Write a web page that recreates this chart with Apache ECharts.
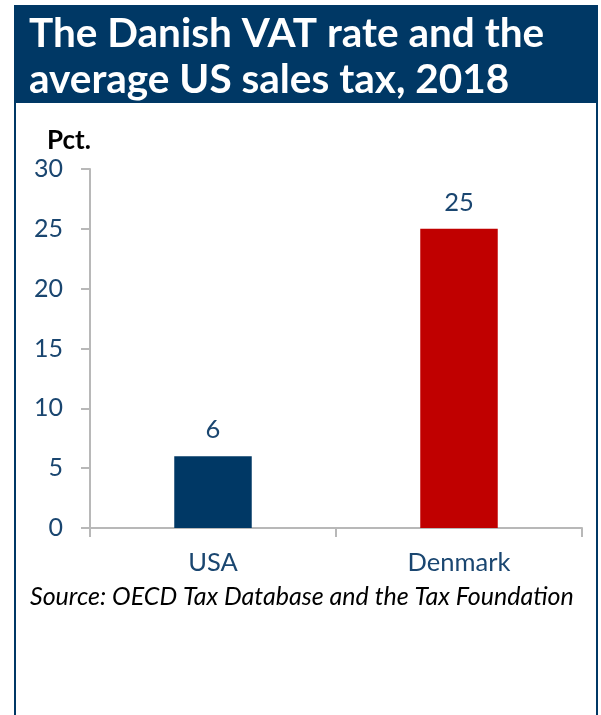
<!DOCTYPE html>
<html>
<head>
<meta charset="utf-8">
<script src="https://cdn.jsdelivr.net/npm/echarts@6/dist/echarts.min.js"></script>
<style>
html,body{margin:0;padding:0;background:#fff;}
#chart{width:601px;height:715px;}
</style>
</head>
<body>
<div id="chart"></div>
<script>
var categories = ['USA', 'Denmark'];
var values = [6, 25];
var barColors = ['#003865', '#C00000'];
var yTicks = [0, 5, 10, 15, 20, 25, 30];
var titleLines = ['The Danish VAT rate and the', 'average US sales tax, 2018'];
var unitLabel = 'Pct.';
var sourceText = 'Source: OECD Tax Database and the Tax Foundation';

var chart = echarts.init(document.getElementById('chart'), null, {renderer: 'canvas'});
var navy = '#003865';
var labelColor = '#1A4670';
var font = 'Lato, "Open Sans", sans-serif';

chart.setOption({
  animation: false,
  backgroundColor: '#fff',
  grid: {left: 90, right: 19, top: 169, bottom: 187, containLabel: false},
  xAxis: {
    type: 'category',
    data: categories,
    axisLine: {lineStyle: {color: '#B8B8B8', width: 2}},
    axisTick: {show: true, length: 9, lineStyle: {color: '#B8B8B8', width: 2}},
    axisLabel: {color: labelColor, fontFamily: font, fontSize: 25.5, margin: 22}
  },
  yAxis: {
    type: 'value',
    min: yTicks[0],
    max: yTicks[yTicks.length - 1],
    interval: 5,
    splitLine: {show: false},
    axisLine: {show: true, lineStyle: {color: '#B8B8B8', width: 2}},
    axisTick: {show: true, length: 9, lineStyle: {color: '#B8B8B8', width: 2}},
    axisLabel: {color: labelColor, fontFamily: font, fontSize: 25, margin: 27}
  },
  series: [{
    type: 'bar',
    barWidth: '31.5%',
    data: values.map(function (v, i) { return {value: v, itemStyle: {color: barColors[i]}}; }),
    label: {show: true, position: 'top', distance: 13, color: labelColor, fontFamily: font, fontSize: 25.5}
  }],
  graphic: [
    {type: 'rect', shape: {x: 14, y: 5, width: 584, height: 98}, style: {fill: navy}, z: 0},
    {type: 'rect', shape: {x: 14, y: 103, width: 2, height: 612}, style: {fill: navy}},
    {type: 'rect', shape: {x: 596, y: 103, width: 2, height: 612}, style: {fill: navy}},
    {type: 'text', left: 29, top: 11, style: {text: titleLines.join('\n'), fill: '#fff', font: 'bold 40.5px ' + font, lineHeight: 46}},
    {type: 'text', left: 47, top: 128, style: {text: unitLabel, fill: '#000', font: 'bold 26px ' + font}},
    {type: 'text', left: 30, top: 584, style: {text: sourceText, fill: '#000', font: 'italic 25px ' + font}}
  ]
});
</script>
</body>
</html>
